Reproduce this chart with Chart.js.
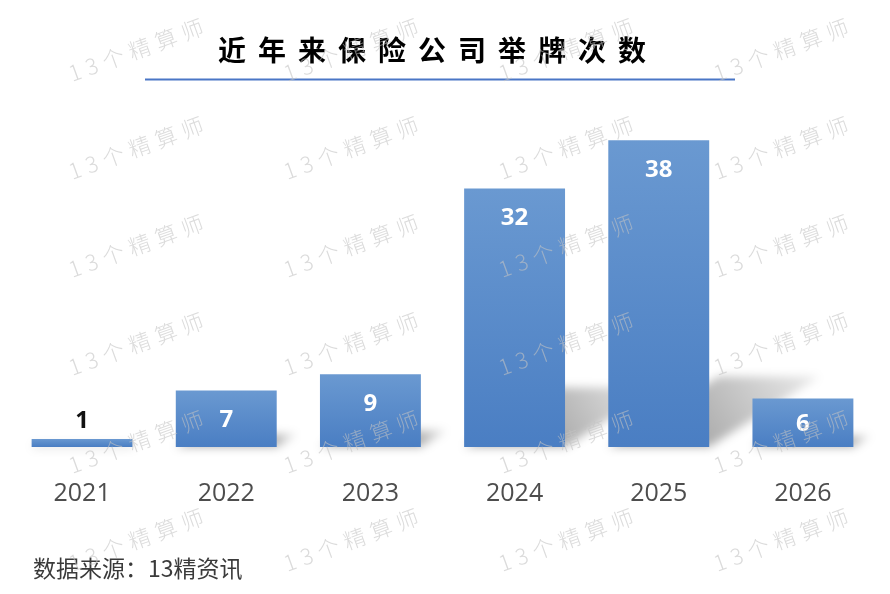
<!DOCTYPE html>
<html>
<head>
<meta charset="utf-8">
<script src="https://cdn.jsdelivr.net/npm/chart.js@4/dist/chart.umd.min.js"></script>
<style>
html,body{margin:0;padding:0;background:#fff;}
#wrap{width:890px;height:594px;position:relative;}
</style>
</head>
<body>
<div id="wrap"><canvas id="c" width="890" height="594"></canvas></div>
<script>
const titleText = '近年来保险公司举牌次数';
const sourceText = '数据来源：13精资讯';
const watermarkText = '13个精算师';
const categories = ['2021', '2022', '2023', '2024', '2025', '2026'];
const counts = [1, 7, 9, 32, 38, 6];

function barGradient(context) {
  const chart = context.chart;
  const area = chart.chartArea;
  if (!area) return '#5a8dcc';
  const ys = chart.scales.y;
  const v = context.raw;
  const top = ys.getPixelForValue(v);
  const bottom = ys.getPixelForValue(0);
  const g = chart.ctx.createLinearGradient(0, top, 0, bottom);
  g.addColorStop(0, '#6a99d1');
  g.addColorStop(1, '#4a7ec3');
  return g;
}

const whiteBg = {
  id: 'whiteBg',
  beforeDraw(chart) {
    const ctx = chart.ctx;
    ctx.save();
    ctx.fillStyle = '#ffffff';
    ctx.fillRect(0, 0, chart.width, chart.height);
    ctx.restore();
  }
};

const shadowPlugin = {
  id: 'barShadow',
  beforeDatasetsDraw(chart) {
    const ctx = chart.ctx;
    const meta = chart.getDatasetMeta(0);
    ctx.save();
    ctx.filter = 'blur(5px)';
    meta.data.forEach(bar => {
      const p = bar.getProps(['x', 'y', 'base', 'width'], true);
      const h = p.base - p.y;
      const l = p.x - p.width / 2, r = p.x + p.width / 2;
      const dx = h * 0.36, dy = h * 0.23;
      const g = ctx.createLinearGradient(r, p.base, r + dx, p.base - dy);
      g.addColorStop(0, 'rgba(0,0,0,0.32)');
      g.addColorStop(1, 'rgba(0,0,0,0.08)');
      ctx.fillStyle = g;
      ctx.beginPath();
      ctx.moveTo(l, p.base);
      ctx.lineTo(r, p.base);
      ctx.lineTo(r + dx, p.base - dy);
      ctx.lineTo(l + dx, p.base - dy);
      ctx.closePath();
      ctx.fill();
    });
    ctx.restore();
  }
};

const valueLabels = {
  id: 'valueLabels',
  afterDatasetsDraw(chart) {
    const ctx = chart.ctx;
    const meta = chart.getDatasetMeta(0);
    ctx.save();
    ctx.font = 'bold 24px "Open Sans", "Noto Sans", sans-serif';
    ctx.textAlign = 'center';
    ctx.textBaseline = 'middle';
    meta.data.forEach((bar, i) => {
      const p = bar.getProps(['x', 'y', 'base'], true);
      const h = p.base - p.y;
      let y, color;
      if (h < 20) { y = p.y - 18; color = '#111111'; }
      else if (h < 60) { y = (p.y + p.base) / 2 + 1; color = '#ffffff'; }
      else { y = p.y + 30; color = '#ffffff'; }
      ctx.fillStyle = color;
      ctx.fillText(String(counts[i]), p.x, y);
    });
    ctx.restore();
  }
};

const decor = {
  id: 'decor',
  afterDraw(chart) {
    const ctx = chart.ctx;
    ctx.save();
    // title
    ctx.fillStyle = '#000000';
    ctx.font = 'bold 28px "Noto Sans CJK SC", sans-serif';
    ctx.textBaseline = 'middle';
    ctx.textAlign = 'left';
    const chars = Array.from(titleText);
    const pitch = 40;
    let x0 = 218;
    chars.forEach((ch, i) => { ctx.fillText(ch, x0 + i * pitch, 50); });
    // underline
    ctx.strokeStyle = '#4a76c6';
    ctx.lineWidth = 2;
    ctx.beginPath();
    ctx.moveTo(145, 79.5);
    ctx.lineTo(735, 79.5);
    ctx.stroke();
    // source
    ctx.fillStyle = '#3a3a3a';
    ctx.font = '23px "Noto Sans CJK SC", sans-serif';
    ctx.fillText(sourceText, 33, 568);
    // watermark
    ctx.fillStyle = 'rgba(195,195,195,0.6)';
    ctx.font = '300 22px "Noto Sans CJK SC", sans-serif';
    ctx.textAlign = 'center';
    ctx.letterSpacing = '6px';
    const ang = -20 * Math.PI / 180;
    for (let row = 0; row < 6; row++) {
      for (let col = 0; col < 4; col++) {
        const cx = 136 + col * 215, cy = 50 + row * 98;
        ctx.save();
        ctx.translate(cx, cy);
        ctx.rotate(ang);
        ctx.fillText(watermarkText, 3, 0);
        ctx.restore();
      }
    }
    ctx.restore();
  }
};

new Chart(document.getElementById('c'), {
  type: 'bar',
  data: {
    labels: categories,
    datasets: [{
      data: counts,
      backgroundColor: barGradient,
      borderWidth: 0,
      barPercentage: 0.70,
      categoryPercentage: 1.0
    }]
  },
  options: {
    responsive: false,
    animation: false,
    devicePixelRatio: 1,
    layout: { padding: { top: 124, bottom: 53, left: 10, right: 15 } },
    plugins: { legend: { display: false }, tooltip: { enabled: false }, title: { display: false } },
    scales: {
      y: { display: false, min: 0, max: 40 },
      x: {
        grid: { display: false, drawTicks: false },
        border: { display: false },
        ticks: { color: '#4d4d4d', padding: 32, font: { size: 25, family: '"Open Sans", "Noto Sans", sans-serif' } }
      }
    }
  },
  plugins: [whiteBg, shadowPlugin, valueLabels, decor]
});
</script>
</body>
</html>
